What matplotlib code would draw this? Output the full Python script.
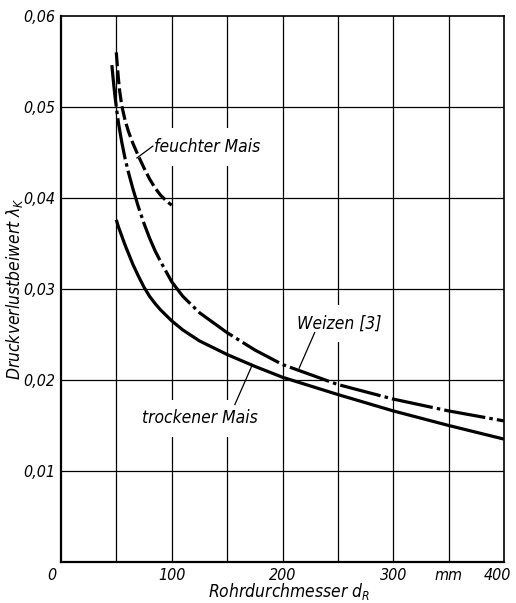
import matplotlib
matplotlib.use("Agg")
import matplotlib.pyplot as plt
import matplotlib.transforms as mtransforms

plt.rcParams['font.family'] = ['DejaVu Sans']
plt.rcParams['font.style'] = 'oblique'
plt.rcParams['font.stretch'] = 'condensed'
plt.rcParams['mathtext.fontset'] = 'custom'
plt.rcParams['mathtext.it'] = 'DejaVu Sans:oblique:stretch=condensed'
plt.rcParams['mathtext.rm'] = 'DejaVu Sans:oblique:stretch=condensed'
plt.rcParams['lines.scale_dashes'] = False

# Daten
x_trocken = [50, 52, 55, 58, 61, 65, 70, 75, 80, 85, 90, 100, 110, 125, 150, 175, 200, 250, 300, 350, 400]
y_trocken = [0.0376, 0.0368, 0.0358, 0.0348, 0.0339, 0.0327, 0.0314, 0.0302, 0.0292, 0.0284, 0.0277,
             0.0265, 0.0255, 0.0243, 0.0228, 0.0215, 0.0203, 0.0184, 0.0166, 0.0150, 0.0135]

x_weizen = [46, 47, 48, 49, 50, 52, 55, 58, 61, 65, 70, 75, 80, 85, 90, 100, 110, 125, 150, 175, 200,
            250, 300, 350, 400]
y_weizen = [0.0546, 0.0533, 0.0521, 0.0510, 0.0500, 0.0482, 0.0461, 0.0443, 0.0428, 0.0410, 0.0390,
            0.0372, 0.0356, 0.0342, 0.0330, 0.0308, 0.0292, 0.0274, 0.0252, 0.0233, 0.0217,
            0.0195, 0.0179, 0.0166, 0.0155]

x_feucht = [50, 51, 52, 53, 55, 58, 61, 65, 70, 75, 80, 85, 90, 95, 100]
y_feucht = [0.0560, 0.0544, 0.0530, 0.0518, 0.0501, 0.0485, 0.0473, 0.0460, 0.0446, 0.0433,
            0.0421, 0.0411, 0.0403, 0.0397, 0.0392]

x_ticks = [0, 100, 200, 300, 350, 400]
x_ticklabels = ['0', '100', '200', '300', 'mm', '400']
y_ticks = [0.01, 0.02, 0.03, 0.04, 0.05, 0.06]
y_ticklabels = ['0,01', '0,02', '0,03', '0,04', '0,05', '0,06']

fig = plt.figure(figsize=(5.16, 6.03), dpi=100)
ax = fig.add_axes([0.118, 0.068, 0.859, 0.9055])

ax.set_xlim(0, 400)
ax.set_ylim(0, 0.06)

# Gitter alle 50 mm bzw. 0,01
for gx in range(50, 400, 50):
    ax.axvline(gx, color='black', lw=0.9, zorder=1)
for gy in y_ticks[:-1]:
    ax.axhline(gy, color='black', lw=0.9, zorder=1)

for side in ['left', 'bottom']:
    ax.spines[side].set_linewidth(1.6)
for side in ['top', 'right']:
    ax.spines[side].set_linewidth(1.2)

ax.plot(x_trocken, y_trocken, color='black', lw=2.3, solid_capstyle='butt', solid_joinstyle='round', zorder=4)
ax.plot(x_weizen, y_weizen, color='black', lw=2.3, dash_capstyle='butt', dash_joinstyle='round',
        linestyle=(0, (30, 3, 2.5, 3)), zorder=4)
ax.plot(x_feucht, y_feucht, color='black', lw=2.3, dash_capstyle='butt', dash_joinstyle='round',
        linestyle=(0, (10, 3)), zorder=4)

box = dict(boxstyle='square,pad=0.55', fc='white', ec='none')

# Beschriftungen mit Hinweislinien
ax.plot([68.6, 83], [0.0444, 0.0457], color='black', lw=0.9, zorder=4)
ax.text(84, 0.0456, 'feuchter Mais', fontsize=12.5, va='center', ha='left', bbox=box, zorder=3)

ax.plot([215, 229], [0.0213, 0.0252], color='black', lw=0.9, zorder=4)
ax.text(213, 0.0262, 'Weizen [3]', fontsize=12.5, va='center', ha='left', bbox=box, zorder=3)

ax.plot([157, 172.5], [0.0173, 0.0216], color='black', lw=0.9, zorder=4)
ax.text(73, 0.0158, 'trockener Mais', fontsize=12.5, va='center', ha='left', bbox=box, zorder=3)

ax.set_xticks(x_ticks)
ax.set_xticklabels(x_ticklabels, fontsize=11.5)
ax.set_yticks(y_ticks)
ax.set_yticklabels(y_ticklabels, fontsize=11.5)
ax.tick_params(length=0, pad=4)

# "0" links vom Ursprung, "400" etwas nach links
xl = ax.get_xticklabels()
xl[0].set_transform(xl[0].get_transform() + mtransforms.ScaledTranslation(-9 / 100, 0, fig.dpi_scale_trans))
xl[-1].set_transform(xl[-1].get_transform() + mtransforms.ScaledTranslation(-7 / 100, 0, fig.dpi_scale_trans))

ax.set_xlabel(r'Rohrdurchmesser $d_R$', fontsize=12.5, labelpad=0)
ax.xaxis.set_label_coords(0.515, -0.035)
ax.set_ylabel(r'Druckverlustbeiwert $\lambda_K$', fontsize=12.5)
ax.yaxis.set_label_coords(-0.082, 0.5)

fig.savefig('out.png', dpi=100)
